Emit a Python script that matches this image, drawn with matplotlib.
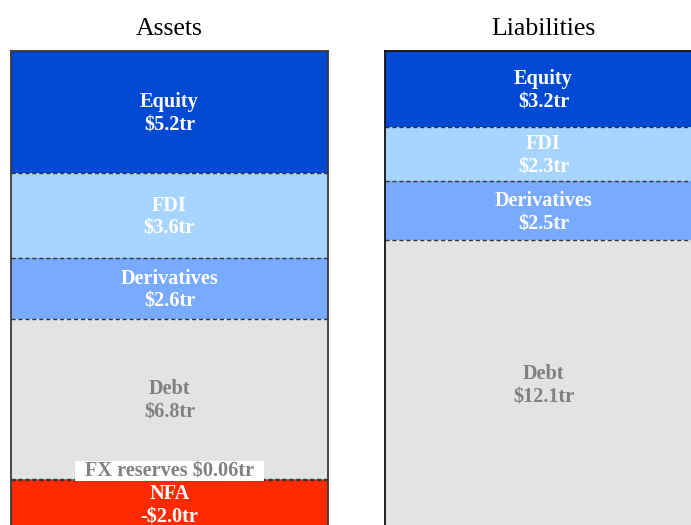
import matplotlib
matplotlib.use("Agg")
import matplotlib.pyplot as plt
from matplotlib.patches import Rectangle
import matplotlib.transforms as mtransforms

# ---- data ----
asset_names = ["NFA", "FX reserves", "Debt", "Derivatives", "FDI", "Equity"]
asset_values = [2.0, 0.06, 6.8, 2.6, 3.6, 5.2]
asset_labels = ["NFA\n-$2.0tr", "FX reserves $0.06tr", "Debt\n$6.8tr",
                "Derivatives\n$2.6tr", "FDI\n$3.6tr", "Equity\n$5.2tr"]
liab_names = ["Debt", "Derivatives", "FDI", "Equity"]
liab_values = [12.1, 2.5, 2.3, 3.2]
liab_labels = ["Debt\n$12.1tr", "Derivatives\n$2.5tr", "FDI\n$2.3tr", "Equity\n$3.2tr"]

colors = {"NFA": "#FF2A00", "FX reserves": "#3DAF7A", "Debt": "#E3E3E3",
          "Derivatives": "#78AAFF", "FDI": "#A8D5FF", "Equity": "#0049D3"}
text_colors = {"NFA": "white", "FX reserves": "#808080", "Debt": "#808080",
               "Derivatives": "white", "FDI": "white", "Equity": "white"}

plt.rcParams["font.family"] = ["Liberation Serif", "DejaVu Serif"]

W, H = 691, 525
fig = plt.figure(figsize=(W / 100, H / 100), dpi=100)

def pos(x0, x1, ytop, ybot):
    return [x0 / W, 1 - ybot / H, (x1 - x0) / W, (ybot - ytop) / H]

ax_a = fig.add_axes(pos(11, 328, 51, 527))
ax_l = fig.add_axes(pos(385, 702, 51, 527))

FS = 14.6


def draw(ax, names, values, labels, spine_color):
    bottom = 0.0
    bounds = []
    for n, v, lab in zip(names, values, labels):
        ax.bar(0, v, bottom=bottom, width=1.0, color=colors[n], linewidth=0, zorder=1)
        if n == "FX reserves":
            trans = mtransforms.blended_transform_factory(ax.transAxes, ax.transData)
            ax.add_patch(Rectangle((0.202, bottom - 0.04), 0.597, 0.83,
                                   transform=trans, fc="white", ec="none", zorder=4.5))
            ax.text(0, bottom + v + 0.30, lab, ha="center", va="center",
                    color=text_colors[n], fontsize=FS, fontweight="bold", zorder=5)
        else:
            ax.text(0, bottom + v / 2 - 0.08, lab, ha="center", va="center",
                    color=text_colors[n], fontsize=FS, fontweight="bold",
                    linespacing=1.22, zorder=4)
        bottom += v
        bounds.append(bottom)
    for b in bounds[:-1]:
        ax.hlines(b, -0.5, 0.5, colors="#333333", linestyles=(0, (3, 2)),
                  linewidth=1.0, zorder=3)
    ax.set_xlim(-0.5, 0.5)
    ax.set_ylim(0, bottom)
    ax.set_xticks([])
    ax.set_yticks([])
    for s in ax.spines.values():
        s.set_color(spine_color)
        s.set_linewidth(1.3)
        s.set_zorder(6)


draw(ax_a, asset_names, asset_values, asset_labels, "#3a3a3a")
draw(ax_l, liab_names, liab_values, liab_labels, "#111111")

fig.text((11 + 328) / 2 / W, 1 - 35 / H, "Assets", ha="center", va="baseline", fontsize=18.5)
fig.text((385 + 702) / 2 / W, 1 - 35 / H, "Liabilities", ha="center", va="baseline", fontsize=18.5)

fig.savefig("out.png", dpi=100)
